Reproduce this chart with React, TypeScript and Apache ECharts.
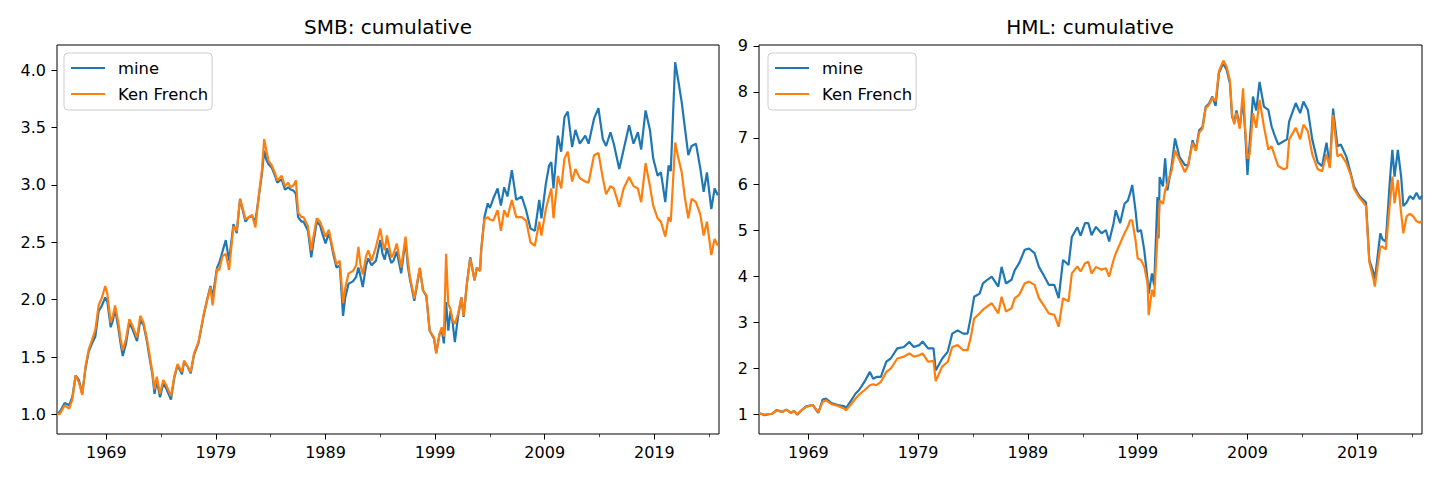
import { useEffect, useRef } from 'react';
import * as echarts from 'echarts';

// decimal years (monthly-ish samples)
const smbYears = [
  1964.5, 1964.8, 1965.2, 1965.6, 1965.9, 1966.2, 1966.5, 1966.8, 1967.1, 1967.4, 1967.7, 1968.0,
  1968.3, 1968.6, 1968.9, 1969.1, 1969.4, 1969.6, 1969.8, 1970.1, 1970.3, 1970.5, 1970.8, 1971.1,
  1971.4, 1971.8, 1972.1, 1972.4, 1972.7, 1972.9, 1973.2, 1973.4, 1973.6, 1973.9, 1974.2, 1974.5,
  1974.9, 1975.2, 1975.5, 1975.9, 1976.1, 1976.4, 1976.7, 1977.0, 1977.4, 1977.9, 1978.2, 1978.5,
  1978.7, 1979.1, 1979.3, 1979.6, 1979.9, 1980.2, 1980.6, 1980.9, 1981.2, 1981.5, 1981.7, 1982.0,
  1982.3, 1982.6, 1982.9, 1983.2, 1983.4, 1983.6, 1983.8, 1984.1, 1984.4, 1984.6, 1985.0, 1985.3,
  1985.6, 1985.8, 1986.1, 1986.3, 1986.5, 1986.8, 1987.0, 1987.4, 1987.7, 1987.9, 1988.2, 1988.5,
  1988.7, 1989.0, 1989.3, 1989.5, 1989.7, 1990.0, 1990.3, 1990.6, 1990.8, 1991.1, 1991.5, 1991.8,
  1992.0, 1992.2, 1992.4, 1992.7, 1992.9, 1993.2, 1993.6, 1994.0, 1994.2, 1994.4, 1994.6, 1995.0,
  1995.2, 1995.5, 1995.9, 1996.3, 1996.5, 1996.7, 1997.1, 1997.3, 1997.6, 1997.9, 1998.2, 1998.5,
  1998.9, 1999.1, 1999.4, 1999.6, 1999.8, 2000.0, 2000.2, 2000.4, 2000.6, 2000.8, 2001.1, 2001.4,
  2001.6, 2001.9, 2002.2, 2002.6, 2002.8, 2003.1, 2003.2, 2003.5, 2003.8, 2004.0, 2004.3, 2004.7,
  2005.0, 2005.3, 2005.6, 2006.0, 2006.4, 2006.9, 2007.3, 2007.7, 2008.1, 2008.5, 2008.7, 2009.1,
  2009.4, 2009.6, 2009.8, 2010.2, 2010.5, 2010.8, 2011.1, 2011.5, 2011.8, 2012.2, 2012.7, 2013.0,
  2013.5, 2013.9, 2014.3, 2014.6, 2015.0, 2015.3, 2015.8, 2016.2, 2016.7, 2017.1, 2017.5, 2017.8,
  2018.2, 2018.6, 2018.9, 2019.3, 2019.6, 2020.0, 2020.3, 2020.5, 2020.9, 2021.2, 2021.5, 2021.8,
  2022.1, 2022.4, 2022.8, 2023.2, 2023.5, 2023.8, 2024.2, 2024.5, 2024.8,
];
const smbMine = [
  1.0, 1.03, 1.1, 1.08, 1.15, 1.34, 1.3, 1.18, 1.4, 1.55, 1.62, 1.68,
  1.9, 1.95, 2.02, 1.98, 1.76, 1.82, 1.92, 1.75, 1.62, 1.51, 1.62, 1.8,
  1.74, 1.64, 1.82, 1.78, 1.64, 1.52, 1.35, 1.18, 1.3, 1.15, 1.27, 1.22,
  1.13, 1.32, 1.43, 1.35, 1.46, 1.42, 1.36, 1.52, 1.62, 1.87, 2.0, 2.12,
  2.02, 2.28, 2.32, 2.42, 2.52, 2.34, 2.66, 2.58, 2.88, 2.76, 2.68, 2.72,
  2.73, 2.68, 2.89, 3.1, 3.3, 3.22, 3.18, 3.15, 3.08, 3.02, 3.05, 2.96,
  2.98, 2.96, 2.95, 2.92, 2.72, 2.68, 2.68, 2.6, 2.37, 2.5, 2.68, 2.65,
  2.58, 2.49, 2.58, 2.5, 2.4, 2.28, 2.3, 1.86, 2.02, 2.14, 2.16, 2.2,
  2.28, 2.2, 2.11, 2.3, 2.36, 2.3, 2.34, 2.52, 2.4, 2.35, 2.45, 2.32,
  2.34, 2.42, 2.23, 2.52, 2.3, 2.18, 1.99, 2.1, 2.27, 2.08, 2.03, 1.73,
  1.66, 1.54, 1.7, 1.74, 1.62, 1.98, 1.73, 1.9, 1.8, 1.63, 1.86, 2.02,
  1.85, 2.14, 2.37, 2.17, 2.28, 2.25, 2.43, 2.72, 2.84, 2.8, 2.88, 2.97,
  2.82, 2.98, 2.9, 3.13, 2.87, 2.9, 2.78, 2.62, 2.6, 2.87, 2.71, 3.01,
  3.17, 3.2, 2.97, 3.43, 3.29, 3.59, 3.64, 3.33, 3.48, 3.36, 3.43, 3.36,
  3.58, 3.67, 3.4, 3.34, 3.46, 3.36, 3.14, 3.31, 3.52, 3.36, 3.46, 3.31,
  3.65, 3.48, 3.23, 3.08, 3.11, 2.85, 3.17, 3.12, 4.07, 3.9, 3.72, 3.49,
  3.26, 3.34, 3.36, 3.14, 2.94, 3.11, 2.79, 2.97, 2.91,
];
const smbKF = [
  1.0, 1.01, 1.08, 1.05, 1.13, 1.34, 1.28, 1.17, 1.42, 1.57, 1.65, 1.74,
  1.95, 2.02, 2.12, 2.05, 1.8, 1.86, 1.95, 1.8, 1.66, 1.56, 1.66, 1.83,
  1.77, 1.67, 1.86, 1.8, 1.66, 1.55, 1.37, 1.22, 1.33, 1.18, 1.3, 1.25,
  1.16, 1.33, 1.44, 1.37, 1.47, 1.42, 1.37, 1.53, 1.63, 1.88, 2.0, 2.11,
  1.95, 2.27, 2.26, 2.38, 2.4, 2.26, 2.64, 2.6, 2.88, 2.78, 2.7, 2.72,
  2.74, 2.63, 2.9, 3.13, 3.4, 3.3, 3.21, 3.17, 3.1, 3.04, 3.08, 2.99,
  3.02, 2.98, 3.0, 3.04, 2.76, 2.72, 2.72, 2.64, 2.43, 2.55, 2.71, 2.68,
  2.63, 2.55, 2.61, 2.52, 2.43, 2.31, 2.34, 1.97, 2.1, 2.23, 2.25, 2.3,
  2.46, 2.3, 2.22, 2.38, 2.43, 2.34, 2.46, 2.62, 2.5, 2.43, 2.56, 2.37,
  2.4, 2.49, 2.28, 2.55, 2.35, 2.2, 2.01, 2.12, 2.28, 2.08, 2.04, 1.73,
  1.67, 1.53, 1.7, 1.76, 1.68, 2.4, 1.96, 1.92, 1.82, 1.79, 1.88, 2.02,
  1.86, 2.14, 2.36, 2.17, 2.28, 2.25, 2.43, 2.7, 2.72, 2.7, 2.69, 2.78,
  2.6, 2.78, 2.72, 2.87, 2.72, 2.72, 2.69, 2.5, 2.47, 2.68, 2.56, 2.79,
  2.9, 2.97, 2.71, 3.08, 2.97, 3.23, 3.29, 3.03, 3.14, 3.06, 3.03, 3.02,
  3.26, 3.28, 3.06, 2.92, 2.99, 2.97, 2.81, 2.97, 3.07, 2.99, 2.97, 2.85,
  3.19, 2.99, 2.82, 2.71, 2.68, 2.55, 2.72, 2.68, 3.37, 3.23, 3.11, 2.88,
  2.71, 2.88, 2.85, 2.74, 2.56, 2.68, 2.39, 2.53, 2.47,
];

const hmlYears = [
  1964.5, 1965.0, 1965.4, 1965.7, 1966.1, 1966.6, 1967.0, 1967.4, 1967.7, 1968.0, 1968.3, 1968.8,
  1969.4, 1969.9, 1970.3, 1970.6, 1971.1, 1971.7, 1972.3, 1972.4, 1972.9, 1973.3, 1973.6, 1974.1,
  1974.6, 1974.9, 1975.2, 1975.6, 1976.1, 1976.5, 1977.1, 1977.7, 1978.2, 1978.6, 1979.1, 1979.4,
  1979.9, 1980.4, 1980.6, 1981.2, 1981.7, 1982.1, 1982.6, 1983.1, 1983.5, 1983.8, 1984.1, 1984.6,
  1984.9, 1985.3, 1985.7, 1986.3, 1986.6, 1987.0, 1987.5, 1987.8, 1988.2, 1988.7, 1989.1, 1989.6,
  1990.0, 1990.5, 1990.9, 1991.4, 1991.8, 1992.2, 1992.7, 1993.0, 1993.5, 1993.8, 1994.2, 1994.5,
  1994.8, 1995.2, 1995.7, 1996.1, 1996.4, 1996.8, 1997.0, 1997.4, 1997.8, 1998.1, 1998.3, 1998.5,
  1998.8, 1999.0, 1999.3, 1999.6, 1999.9, 2000.0, 2000.3, 2000.5, 2000.8, 2000.9, 2001.0, 2001.3,
  2001.5, 2001.7, 2002.1, 2002.4, 2002.8, 2003.3, 2003.6, 2004.0, 2004.3, 2004.6, 2004.9, 2005.2,
  2005.5, 2005.8, 2006.1, 2006.4, 2006.8, 2007.1, 2007.4, 2007.6, 2007.8, 2008.0, 2008.3, 2008.6,
  2008.8, 2009.0, 2009.2, 2009.5, 2009.8, 2010.1, 2010.5, 2010.9, 2011.2, 2011.5, 2011.8, 2012.3,
  2012.6, 2012.8, 2013.4, 2013.8, 2014.1, 2014.5, 2014.9, 2015.4, 2015.8, 2016.2, 2016.5, 2016.8,
  2017.2, 2017.5, 2018.0, 2018.4, 2018.7, 2019.2, 2019.5, 2019.8, 2020.1, 2020.5, 2020.6, 2021.1,
  2021.3, 2021.6, 2022.0, 2022.2, 2022.4, 2022.7, 2023.0, 2023.2, 2023.5, 2023.8, 2024.1, 2024.4,
  2024.7, 2024.9,
];
const hmlMine = [
  1.02, 0.98, 1.0, 1.01, 1.09, 1.05, 1.1, 1.03, 1.07, 0.99, 1.07, 1.17,
  1.2, 1.03, 1.32, 1.34, 1.24, 1.2, 1.17, 1.12, 1.3, 1.45, 1.52, 1.7,
  1.92, 1.77, 1.81, 1.81, 2.14, 2.21, 2.43, 2.46, 2.57, 2.46, 2.5, 2.58,
  2.43, 2.43, 1.95, 2.21, 2.36, 2.75, 2.82, 2.75, 2.75, 3.12, 3.55, 3.62,
  3.84, 3.92, 3.99, 3.77, 4.2, 3.84, 3.92, 4.13, 4.28, 4.57, 4.6, 4.5,
  4.2, 3.99, 3.81, 3.81, 3.52, 4.35, 4.24, 4.85, 5.06, 4.88, 5.15, 5.15,
  4.89, 5.07, 4.93, 5.0, 4.75, 5.15, 5.43, 5.15, 5.57, 5.64, 5.79, 5.98,
  5.43, 4.96, 5.0, 4.56, 3.91, 3.62, 4.06, 3.8, 5.72, 4.82, 6.15, 5.95,
  6.56, 5.86, 6.41, 6.99, 6.59, 6.41, 6.41, 6.95, 6.74, 7.17, 7.24, 7.68,
  7.75, 7.9, 7.7, 8.41, 8.62, 8.48, 8.19, 7.46, 7.35, 7.6, 7.24, 7.82,
  7.1, 6.2, 6.9, 7.9, 7.6, 8.22, 7.68, 7.61, 7.25, 7.04, 6.86, 6.93,
  6.97, 7.36, 7.76, 7.54, 7.79, 7.61, 6.97, 6.47, 6.39, 6.9, 6.39, 7.64,
  6.82, 6.86, 6.6, 6.24, 5.95, 5.74, 5.67, 5.6, 4.35, 4.06, 3.9, 4.93,
  4.8, 4.75, 6.16, 6.74, 6.16, 6.74, 6.16, 5.52, 5.6, 5.74, 5.67, 5.81,
  5.67, 5.75,
];
const hmlKF = [
  1.02, 0.99, 1.0, 1.01, 1.08, 1.05, 1.1, 1.03, 1.07, 1.0, 1.07, 1.16,
  1.2, 1.04, 1.27, 1.3, 1.22, 1.18, 1.12, 1.08, 1.22, 1.34, 1.42, 1.52,
  1.63, 1.65, 1.63, 1.7, 1.92, 1.99, 2.21, 2.25, 2.32, 2.25, 2.28, 2.32,
  2.14, 2.16, 1.72, 2.04, 2.14, 2.46, 2.5, 2.39, 2.39, 2.68, 3.08, 3.19,
  3.27, 3.34, 3.41, 3.19, 3.55, 3.23, 3.3, 3.52, 3.59, 3.84, 3.88, 3.81,
  3.52, 3.34, 3.19, 3.16, 2.9, 3.52, 3.45, 4.06, 4.21, 4.1, 4.28, 4.31,
  4.06, 4.2, 4.14, 4.17, 3.99, 4.35, 4.49, 4.71, 4.93, 5.07, 5.21, 5.21,
  4.78, 4.38, 4.35, 4.2, 3.84, 3.15, 3.7, 3.55, 4.86, 5.1, 5.64, 5.57,
  5.86, 6.0, 6.3, 6.73, 6.52, 6.26, 6.41, 6.9, 6.72, 7.12, 7.2, 7.65,
  7.72, 7.88, 7.8, 8.45, 8.68, 8.55, 8.25, 7.5, 7.3, 7.55, 7.2, 8.08,
  7.15, 6.55, 6.65, 7.54, 7.22, 7.83, 7.25, 6.75, 6.82, 6.6, 6.39, 6.32,
  6.35, 6.97, 7.22, 6.97, 7.29, 7.15, 6.65, 6.32, 6.28, 6.65, 6.35, 7.5,
  6.6, 6.65, 6.46, 6.2, 5.9, 5.7, 5.62, 5.52, 4.3, 3.91, 3.77, 4.64,
  4.64, 4.58, 5.65, 6.16, 5.58, 6.09, 5.37, 4.93, 5.3, 5.35, 5.3, 5.19,
  5.16, 5.2,
];

const majorYears = [1969, 1979, 1989, 1999, 2009, 2019];
const minorYears = [1974, 1984, 1994, 2004, 2014, 2024];
const smbTicks = [1.0, 1.5, 2.0, 2.5, 3.0, 3.5, 4.0];
const hmlTicks = [1, 2, 3, 4, 5, 6, 7, 8, 9];

const FONT = 'DejaVu Sans';
const BLUE = '#1f77b4';
const ORANGE = '#ff7f0e';
const TICK_FONT = 16;

const pairs = (xs: number[], ys: number[]) => xs.map((x, i) => [x, ys[i]]);

export default function App() {
  const chartRef = useRef<HTMLDivElement>(null);

  useEffect(() => {
    if (!chartRef.current) return;
    const chart = echarts.init(chartRef.current, null, { renderer: 'svg' });

    const grids = [
      { left: 57, right: 721, top: 45, bottom: 46 },
      { left: 759, right: 18, top: 45, bottom: 46 },
    ];

    const xMajor = (gridIndex: number) => ({
      type: 'value',
      gridIndex,
      position: 'bottom',
      min: 1964.5,
      max: 2024.9,
      axisLine: { show: false },
      splitLine: { show: false },
      axisTick: {
        show: true,
        customValues: majorYears,
        length: 5.5,
        lineStyle: { color: '#000', width: 1 },
      },
      axisLabel: {
        customValues: majorYears,
        margin: 10,
        color: '#000',
        fontSize: TICK_FONT,
        fontFamily: FONT,
        formatter: (v: number) => String(Math.round(v)),
      },
    });
    const xMinor = (gridIndex: number) => ({
      type: 'value',
      gridIndex,
      position: 'bottom',
      min: 1964.5,
      max: 2024.9,
      axisLine: { show: false },
      splitLine: { show: false },
      axisTick: {
        show: true,
        customValues: minorYears,
        length: 3.2,
        lineStyle: { color: '#000', width: 0.7 },
      },
      axisLabel: { show: false },
    });
    const yAxis = (gridIndex: number, min: number, max: number, ticks: number[], digits: number) => ({
      type: 'value',
      gridIndex,
      min,
      max,
      axisLine: { show: false },
      splitLine: { show: false },
      axisTick: {
        show: true,
        customValues: ticks,
        length: 5.5,
        lineStyle: { color: '#000', width: 1 },
      },
      axisLabel: {
        customValues: ticks,
        margin: 11,
        color: '#000',
        fontSize: TICK_FONT,
        fontFamily: FONT,
        formatter: (v: number) => v.toFixed(digits),
      },
    });

    const legend = (left: number) => ({
      orient: 'vertical',
      left,
      top: 53,
      icon: 'rect',
      itemWidth: 34,
      itemHeight: 2.2,
      itemGap: 8,
      padding: [6, 4, 7, 7],
      backgroundColor: 'rgba(255,255,255,0.8)',
      borderColor: '#cccccc',
      borderWidth: 1,
      borderRadius: 4,
      data: ['mine', 'Ken French'],
      textStyle: {
        color: '#000',
        fontSize: 16.4,
        fontFamily: FONT,
        lineHeight: 18,
        padding: [0, 0, 0, 8],
      },
    });

    const line = (name: string, color: string, xAxisIndex: number, yAxisIndex: number, data: number[][]) => ({
      name,
      type: 'line',
      xAxisIndex,
      yAxisIndex,
      data,
      showSymbol: false,
      symbol: 'none',
      itemStyle: { color },
      lineStyle: { color, width: 2.2 },
    });

    const titleStyle = { fontSize: 20, fontWeight: 'normal', color: '#000', fontFamily: FONT };

    chart.setOption({
      animation: false,
      backgroundColor: '#fff',
      title: [
        { text: 'SMB: cumulative', left: 388, top: 17, padding: 0, textAlign: 'center', textStyle: titleStyle },
        { text: 'HML: cumulative', left: 1090, top: 17, padding: 0, textAlign: 'center', textStyle: titleStyle },
      ],
      legend: [legend(64), legend(768)],
      grid: grids.map((g) => ({ ...g, show: true, borderColor: '#000', borderWidth: 1, backgroundColor: 'transparent' })),
      xAxis: [xMajor(0), xMinor(0), xMajor(1), xMinor(1)],
      yAxis: [yAxis(0, 0.83, 4.22, smbTicks, 1), yAxis(1, 0.57, 9.02, hmlTicks, 0)],
      series: [
        line('mine', BLUE, 0, 0, pairs(smbYears, smbMine)),
        line('Ken French', ORANGE, 0, 0, pairs(smbYears, smbKF)),
        line('mine', BLUE, 2, 1, pairs(hmlYears, hmlMine)),
        line('Ken French', ORANGE, 2, 1, pairs(hmlYears, hmlKF)),
      ],
    });

    return () => {
      chart.dispose();
    };
  }, []);

  return (
    <div
      ref={chartRef}
      style={{ position: 'fixed', left: 0, top: 0, width: 1440, height: 480, background: '#fff' }}
    />
  );
}
